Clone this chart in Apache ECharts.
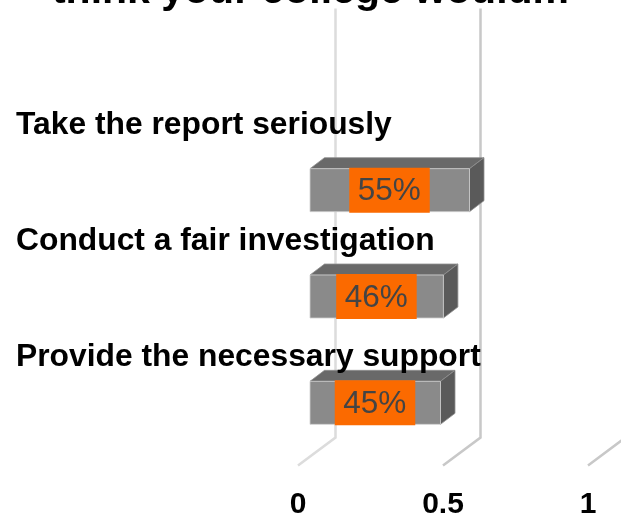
<!DOCTYPE html>
<html>
<head>
<meta charset="utf-8">
<style>html,body{margin:0;padding:0;background:#fff;overflow:hidden}#c{width:621px;height:514px}</style>
<script src="https://cdn.jsdelivr.net/npm/echarts@6/dist/echarts.min.js"></script>
</head>
<body>
<div id="c"></div>
<script>
const categories = ['Take the report seriously', 'Conduct a fair investigation', 'Provide the necessary support'];
const shares = [0.55, 0.46, 0.45];
const axisTicks = [0, 0.5, 1];
const titleText = 'think your college wouldm';

const FONT = '"Liberation Sans", Arial, sans-serif';
const depth = [14.5, -11];
const barH = 43;

const chart = echarts.init(document.getElementById('c'), null, {renderer: 'canvas'});

function renderWall(params, api) {
  const v = api.value(0);
  const x = api.coord([v, 0])[0];
  const r = params.coordSys;
  const bottom = r.y + r.height;
  const col = v === 0 ? '#dcdcdc' : '#c8c8c8';
  return {
    type: 'group',
    children: [
      {type: 'polyline', shape: {points: [[x + 25.5, r.y - 128.5], [x + 25.5, bottom - 18.5], [x - 12, bottom + 9.5]]},
       style: {fill: null, stroke: col, lineWidth: 2.5}, silent: true}
    ]
  };
}

function renderBar(params, api) {
  const p0 = api.coord([0, api.value(1)]);
  const p1 = api.coord([api.value(0), api.value(1)]);
  const l = p0[0], r = p1[0], t = p0[1] - barH / 2, b = p0[1] + barH / 2;
  const dx = depth[0], dy = depth[1];
  const edge = {stroke: '#cfcfcf', lineWidth: 0.8};
  return {
    type: 'group',
    children: [
      {type: 'polygon', shape: {points: [[l, t], [l + dx, t + dy], [r + dx, t + dy], [r, t]]},
       style: {fill: '#696969', stroke: '#8f8f8f', lineWidth: 0.8}},
      {type: 'polygon', shape: {points: [[r, t], [r + dx, t + dy], [r + dx, b + dy], [r, b]]},
       style: {fill: '#5a5a5a', stroke: '#8f8f8f', lineWidth: 0.8}},
      {type: 'rect', shape: {x: l, y: t, width: r - l, height: b - t},
       style: Object.assign({fill: '#8a8a8a'}, edge)},
      {type: 'rect', shape: {x: (l + r) / 2 - 40.5, y: (t + b) / 2 - 22.5, width: 80.5, height: 45},
       style: {fill: '#fb6a00'}},
      {type: 'text', x: (l + r) / 2 - 0.5, y: (t + b) / 2 + 1.5,
       style: {text: Math.round(api.value(0) * 100) + '%', fill: '#444444',
               font: '31.5px ' + FONT, align: 'center', verticalAlign: 'middle'}}
    ]
  };
}

chart.setOption({
  animation: false,
  backgroundColor: '#ffffff',
  title: {
    text: titleText, left: 'center', top: -33.5,
    textStyle: {fontFamily: FONT, fontWeight: 'bold', fontSize: 41, color: '#000'}
  },
  grid: [
    {left: 310, width: 290, top: 137, height: 319, outerBoundsMode: 'none'},
    {left: 16, width: 500, top: 67, height: 348, outerBoundsMode: 'none'}
  ],
  xAxis: [
    {type: 'value', gridIndex: 0, min: 0, max: 1, interval: 0.5,
     axisLine: {show: false}, axisTick: {show: false}, splitLine: {show: false},
     axisLabel: {show: true, margin: 34, color: '#000', fontFamily: FONT, fontWeight: 'bold',
                 fontSize: 30, padding: [0, 24, 0, 0], showMaxLabel: true, showMinLabel: true,
                 hideOverlap: false, alignMinLabel: 'center', alignMaxLabel: 'center',
                 formatter: v => String(v)}},
    {type: 'value', gridIndex: 1, min: 0, max: 1, show: false}
  ],
  yAxis: [
    {type: 'category', gridIndex: 0, data: categories, inverse: true, show: false},
    {type: 'category', gridIndex: 1, data: categories, inverse: true,
     axisLine: {show: false}, axisTick: {show: false}, splitLine: {show: false},
     axisLabel: {inside: true, margin: 0, align: 'left', color: '#000', fontFamily: FONT,
                 fontWeight: 'bold', fontSize: 31.8}, z: 10}
  ],
  series: [
    {type: 'custom', xAxisIndex: 0, yAxisIndex: 0, coordinateSystem: 'cartesian2d', clip: false, z: 1,
     data: axisTicks.map(v => [v]), renderItem: renderWall, encode: {x: 0}, silent: true},
    {type: 'custom', xAxisIndex: 0, yAxisIndex: 0, coordinateSystem: 'cartesian2d', clip: false, z: 3,
     data: shares.map((v, i) => [v, i]), renderItem: renderBar, encode: {x: 0, y: 1}, silent: true}
  ]
});
</script>
</body>
</html>
